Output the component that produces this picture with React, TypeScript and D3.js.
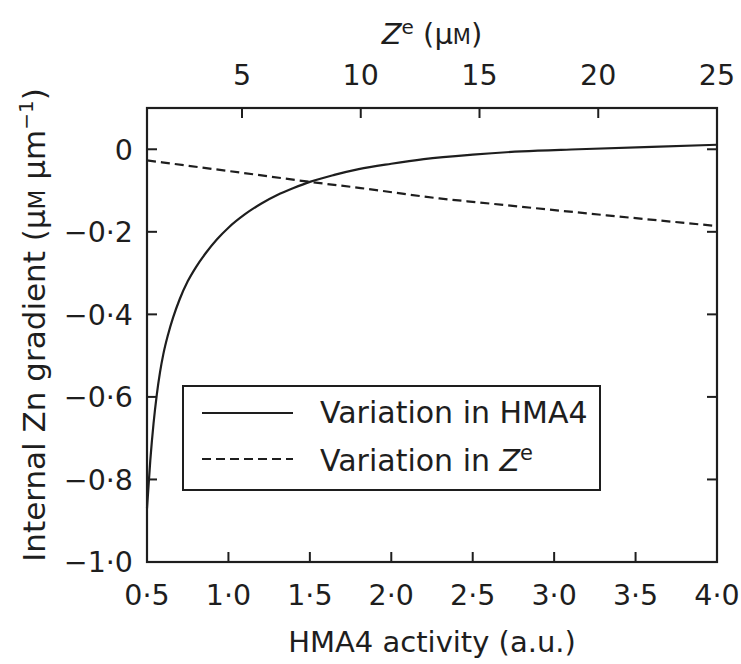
import React from "react";
import * as d3 from "d3";

// HMA4 activity (a.u.) tick values
const hmaTicks = [0.5, 1.0, 1.5, 2.0, 2.5, 3.0, 3.5, 4.0];
// Ze (µM) tick values (top axis)
const zeTicks = [5, 10, 15, 20, 25];
// Internal Zn gradient tick values
const gradTicks = [0, -0.2, -0.4, -0.6, -0.8, -1.0];

// Series 1: variation in HMA4 (bottom axis)
const hmaX = [0.5, 0.52, 0.54, 0.56, 0.58, 0.6, 0.63, 0.66, 0.7, 0.75, 0.8, 0.86, 0.93, 1.0, 1.1, 1.2, 1.3, 1.4, 1.5, 1.65, 1.8, 2.0, 2.2, 2.5, 2.8, 3.15, 3.6, 4.0];
const hmaY = [-0.87, -0.755, -0.665, -0.595, -0.54, -0.497, -0.448, -0.408, -0.364, -0.32, -0.286, -0.252, -0.218, -0.19, -0.158, -0.132, -0.111, -0.094, -0.079, -0.062, -0.048, -0.035, -0.024, -0.013, -0.005, 0.0, 0.006, 0.011];

// Series 2: variation in Ze (top axis)
const zeX = [1, 5, 8, 10, 13.3, 15, 20, 25];
const zeY = [-0.027, -0.057, -0.08, -0.094, -0.119, -0.129, -0.158, -0.186];

const W = 741;
const H = 664;
const M = { left: 147, right: 717, top: 108, bottom: 562 };
const FONT = "'DejaVu Sans', sans-serif";
const FS = 28.5;
const INK = "#1e1e1e";

const fmt = (v: number) => {
  if (v === 0) return "0";
  const s = Math.abs(v).toFixed(1).replace(".", "\u00B7");
  return v < 0 ? "\u2212" + s : s;
};

export default function App() {
  const x = d3.scaleLinear().domain([0.5, 4.0]).range([M.left, M.right]);
  const xTop = d3.scaleLinear().domain([1, 25]).range([M.left, M.right]);
  const y = d3.scaleLinear().domain([-1.0, 0.1]).range([M.bottom, M.top]);

  const solid = d3
    .line<number>()
    .x((_, i) => x(hmaX[i]))
    .y((d) => y(d))
    .curve(d3.curveMonotoneX)(hmaY) as string;

  const dashed = d3
    .line<number>()
    .x((_, i) => xTop(zeX[i]))
    .y((d) => y(d))
    .curve(d3.curveMonotoneX)(zeY) as string;

  const tickLen = 10;
  const cx = (M.left + M.right) / 2;

  return (
    <svg
      width={W}
      height={H}
      style={{ position: "absolute", left: 0, top: 0, background: "#fff" }}
      fontFamily={FONT}
      fill={INK}
    >
      <rect x={0} y={0} width={W} height={H} fill="#fff" />

      {/* curves */}
      <path d={solid} fill="none" stroke={INK} strokeWidth={2.2} />
      <path d={dashed} fill="none" stroke={INK} strokeWidth={2.2} strokeDasharray="9,5" />

      {/* frame */}
      <rect
        x={M.left}
        y={M.top}
        width={M.right - M.left}
        height={M.bottom - M.top}
        fill="none"
        stroke={INK}
        strokeWidth={2.2}
      />

      {/* left & right ticks */}
      {gradTicks.map((t) => (
        <g key={"y" + t}>
          <line x1={M.left} x2={M.left + tickLen} y1={y(t)} y2={y(t)} stroke={INK} strokeWidth={2} />
          <line x1={M.right} x2={M.right - tickLen} y1={y(t)} y2={y(t)} stroke={INK} strokeWidth={2} />
          <text x={133} y={y(t)} dy="0.36em" textAnchor="end" fontSize={FS}>
            {fmt(t)}
          </text>
        </g>
      ))}

      {/* bottom ticks */}
      {hmaTicks.map((t) => (
        <g key={"x" + t}>
          <line x1={x(t)} x2={x(t)} y1={M.bottom} y2={M.bottom - tickLen} stroke={INK} strokeWidth={2} />
          <text x={x(t)} y={605} textAnchor="middle" fontSize={FS}>
            {t.toFixed(1).replace(".", "\u00B7")}
          </text>
        </g>
      ))}

      {/* top ticks */}
      {zeTicks.map((t) => (
        <g key={"z" + t}>
          <line x1={xTop(t)} x2={xTop(t)} y1={M.top} y2={M.top + tickLen} stroke={INK} strokeWidth={2} />
          <text x={xTop(t)} y={85} textAnchor="middle" fontSize={FS}>
            {t}
          </text>
        </g>
      ))}

      {/* axis titles */}
      <text x={cx} y={652} textAnchor="middle" fontSize={29}>
        HMA4 activity (a.u.)
      </text>

      <text x={cx} y={44} textAnchor="middle" fontSize={29}>
        <tspan fontStyle="italic">Z</tspan>
        <tspan fontSize={20} dy={-10}>e</tspan>
        <tspan dy={10}> (μ</tspan>
        <tspan fontSize={21}>M</tspan>
        <tspan>)</tspan>
      </text>

      <text
        transform={`translate(45,325) rotate(-90)`}
        textAnchor="middle"
        fontSize={31}
      >
        <tspan>Internal Zn gradient (μ</tspan>
        <tspan fontSize={23}>M</tspan>
        <tspan> μm</tspan>
        <tspan fontSize={20} dy={-12}>{"\u22121"}</tspan>
        <tspan dy={12}>)</tspan>
      </text>

      {/* legend */}
      <rect x={183} y={386} width={417} height={104} fill="#fff" stroke={INK} strokeWidth={2} />
      <line x1={202} x2={293} y1={413} y2={413} stroke={INK} strokeWidth={2} />
      <line x1={202} x2={293} y1={459} y2={459} stroke={INK} strokeWidth={2} strokeDasharray="9,5" />
      <text x={320} y={423} fontSize={30}>
        Variation in HMA4
      </text>
      <text x={320} y={471} fontSize={30}>
        <tspan>Variation in </tspan>
        <tspan fontStyle="italic">Z</tspan>
        <tspan fontSize={21} dy={-11}>e</tspan>
      </text>
    </svg>
  );
}
